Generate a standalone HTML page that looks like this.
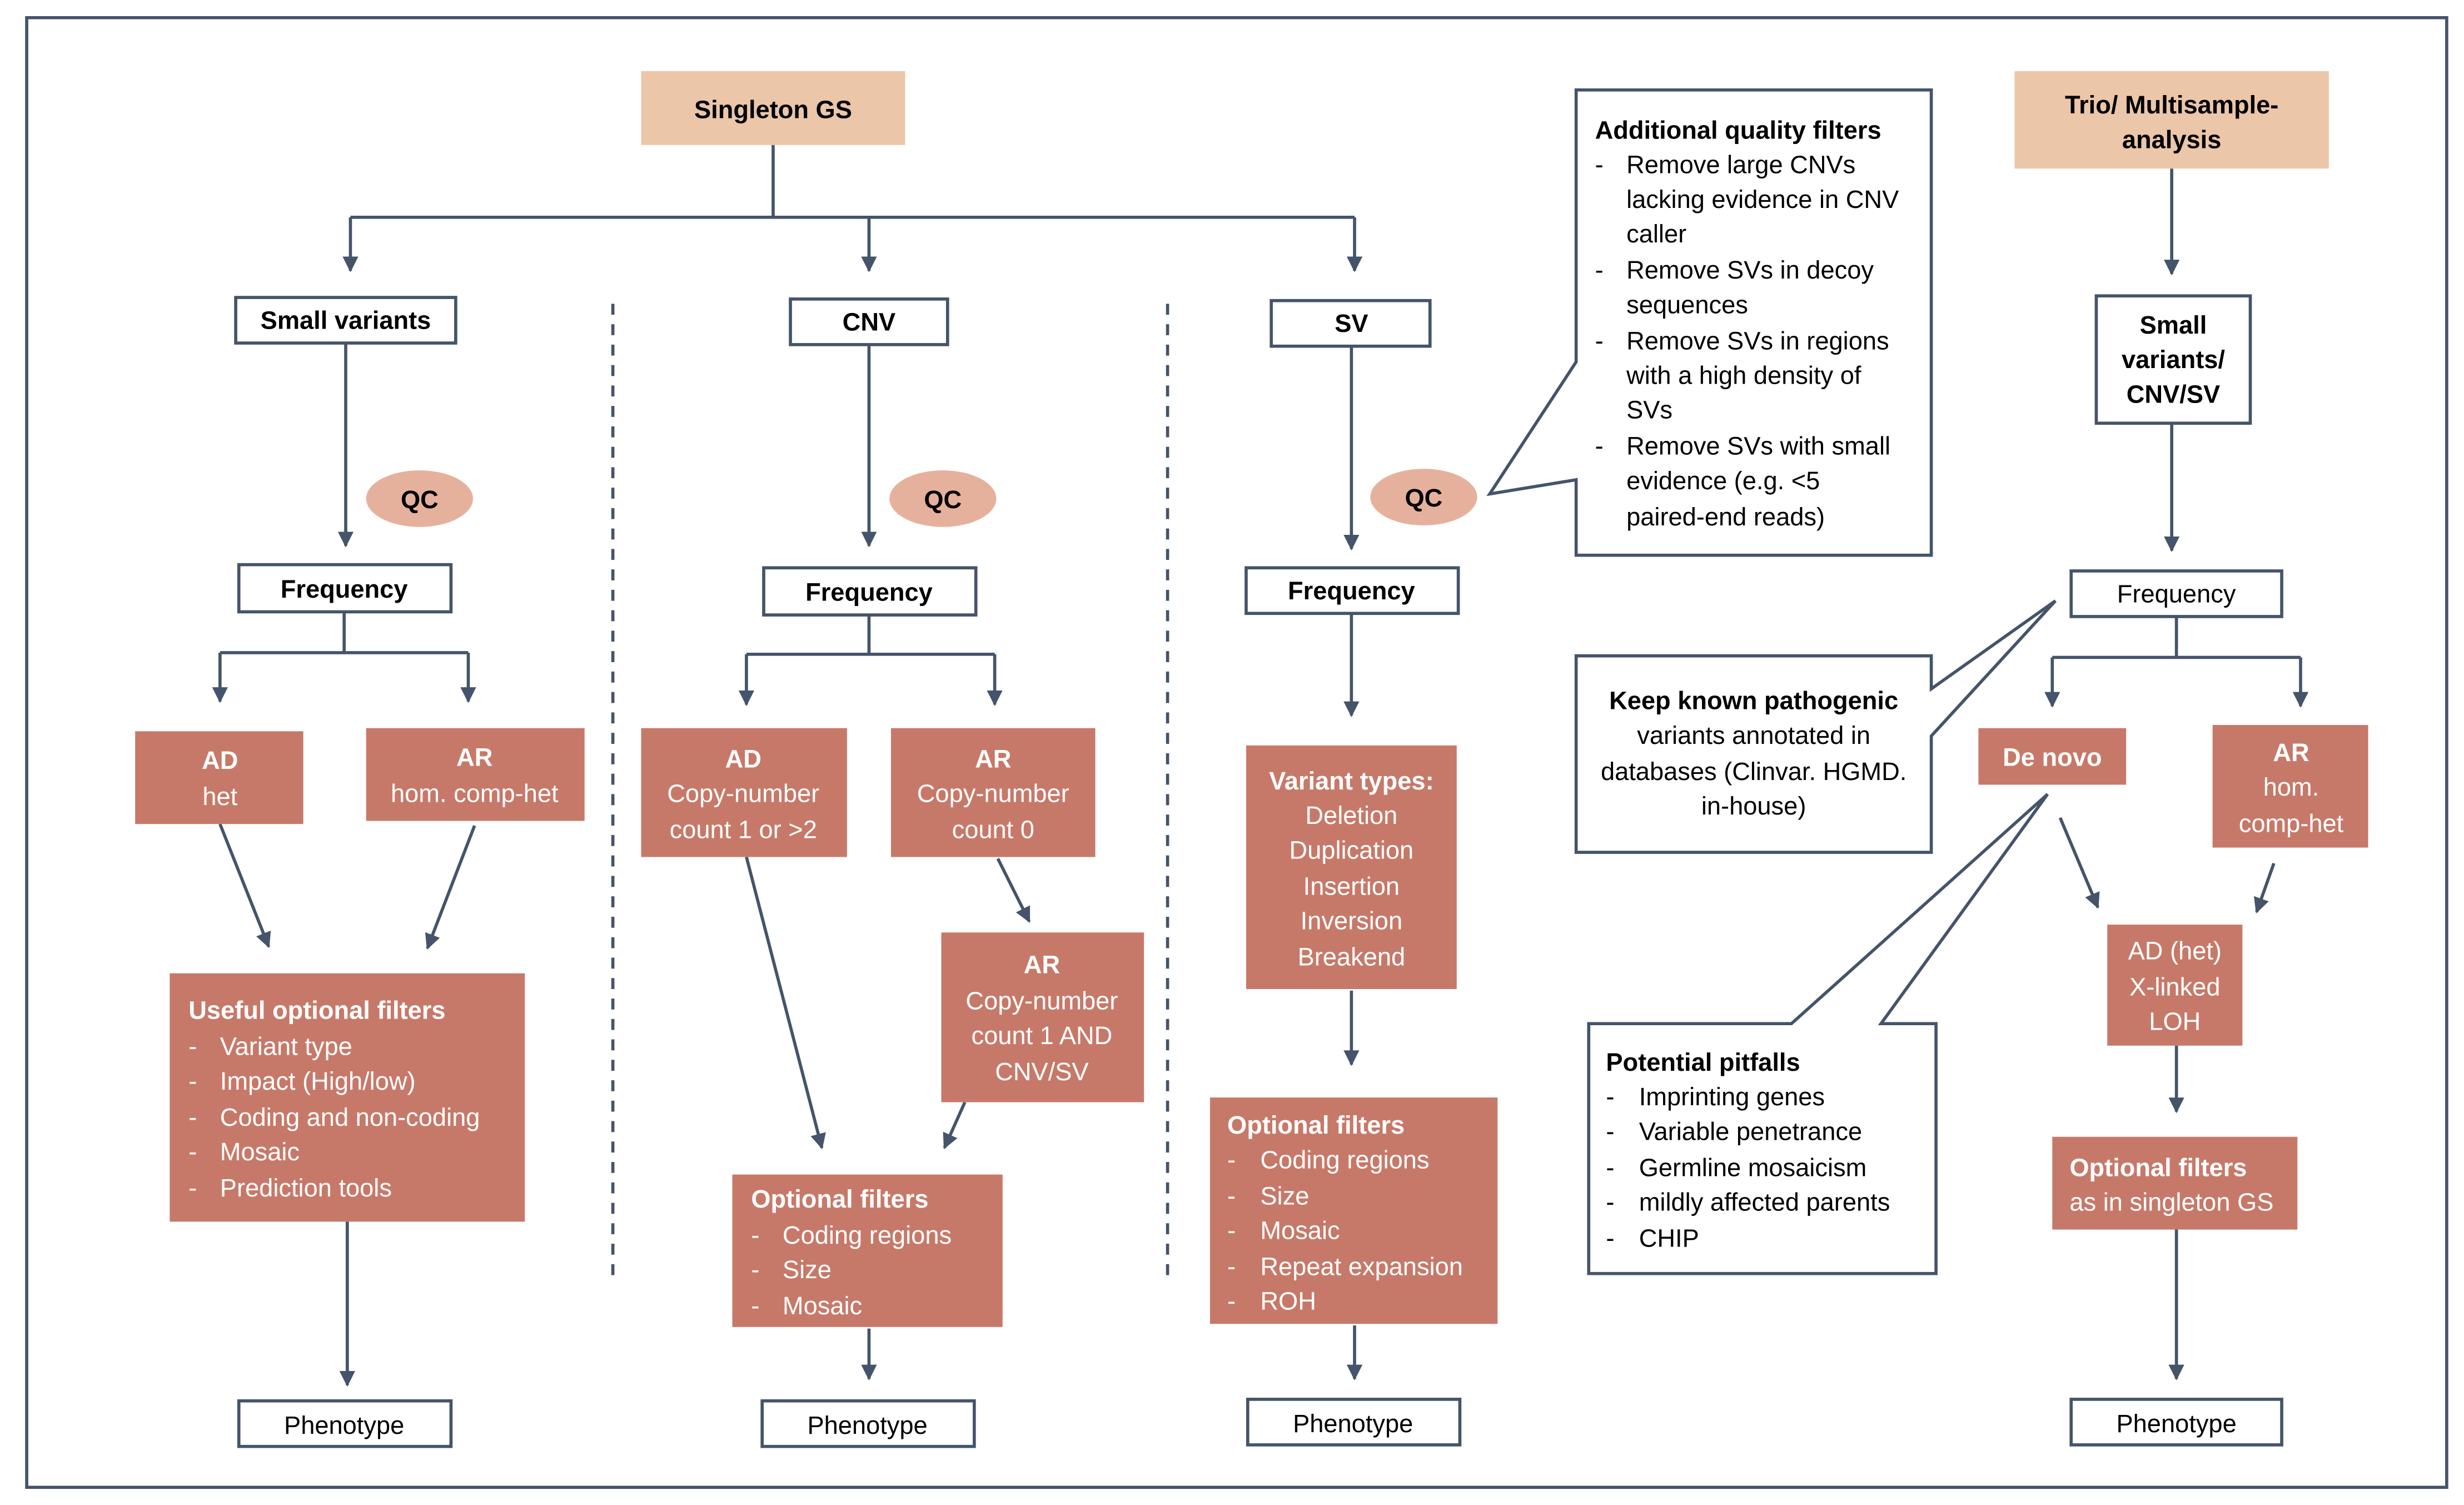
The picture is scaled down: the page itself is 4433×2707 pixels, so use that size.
<!DOCTYPE html>
<html><head><meta charset="utf-8"><style>
html,body{margin:0;padding:0;background:#fff}
svg{display:block}
text{font-family:"Liberation Sans",sans-serif;font-size:16px;fill:#000}
.b{font-weight:bold}
.w{fill:#fff}
.c{text-anchor:middle}
</style></head><body>
<svg width="4433" height="2707" viewBox="0 0 1568 957" xmlns="http://www.w3.org/2000/svg">
<defs><marker id="a" viewBox="0 0 10 10" refX="9" refY="5" markerWidth="5" markerHeight="5" orient="auto"><path d="M0,0 L10,5 L0,10 z" fill="#44546A"/></marker></defs>
<rect x="17" y="11" width="1540" height="935" fill="#fff" stroke="#44546A" stroke-width="2"/>
<g stroke="#44546A" stroke-width="2" fill="none">
<path d="M492,92 V138 M223,138 H862"/>
<path d="M223,138 V172" marker-end="url(#a)"/><path d="M553,138 V172" marker-end="url(#a)"/><path d="M862,138 V172" marker-end="url(#a)"/>
<path d="M390,193 V812 M743,193 V812" stroke-dasharray="7,6"/>
<path d="M220,218 V347" marker-end="url(#a)"/><path d="M553,219 V347" marker-end="url(#a)"/><path d="M860,220 V349" marker-end="url(#a)"/>
<path d="M219,389 V415 M140,415 H298"/><path d="M140,415 V446" marker-end="url(#a)"/><path d="M298,415 V446" marker-end="url(#a)"/>
<path d="M553,391 V416 M475,416 H633"/><path d="M475,416 V448" marker-end="url(#a)"/><path d="M633,416 V448" marker-end="url(#a)"/>
<path d="M860,390 V455" marker-end="url(#a)"/>
<path d="M140,524 L171,602" marker-end="url(#a)"/><path d="M302,525 L272,603" marker-end="url(#a)"/>
<path d="M221,777 V881" marker-end="url(#a)"/>
<path d="M635,546 L655,586" marker-end="url(#a)"/><path d="M475,545 L523,730" marker-end="url(#a)"/><path d="M614,701 L601,730" marker-end="url(#a)"/>
<path d="M553,845 V877" marker-end="url(#a)"/>
<path d="M860,630 V677" marker-end="url(#a)"/><path d="M862,843 V877" marker-end="url(#a)"/>
<path d="M1382,107 V174" marker-end="url(#a)"/><path d="M1382,269 V350" marker-end="url(#a)"/>
<path d="M1385,392 V418 M1306,418 H1464"/><path d="M1306,418 V449" marker-end="url(#a)"/><path d="M1464,418 V449" marker-end="url(#a)"/>
<path d="M1311,520 L1335,577" marker-end="url(#a)"/><path d="M1447,549 L1436,580" marker-end="url(#a)"/>
<path d="M1385,665 V707" marker-end="url(#a)"/><path d="M1385,782 V877" marker-end="url(#a)"/>
</g>
<rect x="408" y="45" width="168" height="47" fill="#EBC6A9"/>
<text x="492" y="75" class="b c">Singleton GS</text>
<rect x="1282" y="45" width="200" height="62" fill="#EBC6A9"/>
<text x="1382" y="72" class="b c">Trio/ Multisample-</text><text x="1382" y="94" class="b c">analysis</text>
<g fill="#fff" stroke="#44546A" stroke-width="2">
<rect x="150" y="189" width="140" height="29"/><rect x="503" y="190" width="100" height="29"/><rect x="809" y="191" width="101" height="29"/>
<rect x="152" y="359" width="135" height="30"/><rect x="486" y="361" width="135" height="30"/><rect x="793" y="361" width="135" height="29"/>
<rect x="152" y="891" width="135" height="29"/><rect x="485" y="891" width="135" height="29"/><rect x="794" y="890" width="135" height="29"/>
<rect x="1334" y="188" width="98" height="81"/><rect x="1318" y="363" width="134" height="29"/><rect x="1318" y="890" width="134" height="29"/>
<path d="M1003,57 H1229 V353 H1003 V305 L948,314 L1003,230 Z"/>
<path d="M1003,417 H1229 V438 L1308,382 L1229,468 V542 H1003 Z"/>
<path d="M1011,651 H1140 L1303,505 L1197,651 H1232 V810 H1011 Z"/>
</g>
<text x="220" y="209" class="b c">Small variants</text><text x="553" y="210" class="b c">CNV</text><text x="860" y="211" class="b c">SV</text>
<text x="219" y="380" class="b c">Frequency</text><text x="553" y="382" class="b c">Frequency</text><text x="860" y="381" class="b c">Frequency</text>
<text x="219" y="912" class="c">Phenotype</text><text x="552" y="912" class="c">Phenotype</text><text x="861" y="911" class="c">Phenotype</text>
<text x="1383" y="212" class="b c">Small</text><text x="1383" y="234" class="b c">variants/</text><text x="1383" y="256" class="b c">CNV/SV</text>
<text x="1385" y="383" class="c">Frequency</text><text x="1385" y="911" class="c">Phenotype</text>
<g fill="#E6B19C"><ellipse cx="267" cy="317" rx="34" ry="18"/><ellipse cx="600" cy="317" rx="34" ry="18"/><ellipse cx="906" cy="316" rx="34" ry="18"/></g>
<text x="267" y="323" class="b c">QC</text><text x="600" y="323" class="b c">QC</text><text x="906" y="322" class="b c">QC</text>
<g fill="#C77969">
<rect x="86" y="465" width="107" height="59"/><rect x="233" y="463" width="139" height="59"/><rect x="108" y="619" width="226" height="158"/>
<rect x="408" y="463" width="131" height="82"/><rect x="567" y="463" width="130" height="82"/><rect x="599" y="593" width="129" height="108"/><rect x="466" y="747" width="172" height="97"/>
<rect x="793" y="474" width="134" height="155"/><rect x="770" y="698" width="183" height="144"/>
<rect x="1259" y="463" width="94" height="36"/><rect x="1408" y="461" width="99" height="78"/><rect x="1341" y="588" width="86" height="77"/><rect x="1306" y="723" width="156" height="59"/>
</g>
<g class="w">
<text x="140" y="489" class="b c w">AD</text><text x="140" y="512" class="c w">het</text>
<text x="302" y="487" class="b c w">AR</text><text x="302" y="510" class="c w">hom. comp-het</text>
<text x="120" y="648" class="b w">Useful optional filters</text>
<text x="120" y="671" class="w">-</text><text x="140" y="671" class="w">Variant type</text>
<text x="120" y="693" class="w">-</text><text x="140" y="693" class="w">Impact (High/low)</text>
<text x="120" y="716" class="w">-</text><text x="140" y="716" class="w">Coding and non-coding</text>
<text x="120" y="738" class="w">-</text><text x="140" y="738" class="w">Mosaic</text>
<text x="120" y="761" class="w">-</text><text x="140" y="761" class="w">Prediction tools</text>
<text x="473" y="488" class="b c w">AD</text><text x="473" y="510" class="c w">Copy-number</text><text x="473" y="533" class="c w">count 1 or &gt;2</text>
<text x="632" y="488" class="b c w">AR</text><text x="632" y="510" class="c w">Copy-number</text><text x="632" y="533" class="c w">count 0</text>
<text x="663" y="619" class="b c w">AR</text><text x="663" y="642" class="c w">Copy-number</text><text x="663" y="664" class="c w">count 1 AND</text><text x="663" y="687" class="c w">CNV/SV</text>
<text x="478" y="768" class="b w">Optional filters</text>
<text x="478" y="791" class="w">-</text><text x="498" y="791" class="w">Coding regions</text>
<text x="478" y="813" class="w">-</text><text x="498" y="813" class="w">Size</text>
<text x="478" y="836" class="w">-</text><text x="498" y="836" class="w">Mosaic</text>
<text x="860" y="502" class="b c w">Variant types:</text><text x="860" y="524" class="c w">Deletion</text><text x="860" y="546" class="c w">Duplication</text><text x="860" y="569" class="c w">Insertion</text><text x="860" y="591" class="c w">Inversion</text><text x="860" y="614" class="c w">Breakend</text>
<text x="781" y="721" class="b w">Optional filters</text>
<text x="781" y="743" class="w">-</text><text x="802" y="743" class="w">Coding regions</text>
<text x="781" y="766" class="w">-</text><text x="802" y="766" class="w">Size</text>
<text x="781" y="788" class="w">-</text><text x="802" y="788" class="w">Mosaic</text>
<text x="781" y="811" class="w">-</text><text x="802" y="811" class="w">Repeat expansion</text>
<text x="781" y="833" class="w">-</text><text x="802" y="833" class="w">ROH</text>
<text x="1306" y="487" class="b c w">De novo</text>
<text x="1458" y="484" class="b c w">AR</text><text x="1458" y="506" class="c w">hom.</text><text x="1458" y="529" class="c w">comp-het</text>
<text x="1384" y="610" class="c w">AD (het)</text><text x="1384" y="633" class="c w">X-linked</text><text x="1384" y="655" class="c w">LOH</text>
<text x="1317" y="748" class="b w">Optional filters</text><text x="1317" y="770" class="w">as in singleton GS</text>
</g>
<text x="1015" y="88" class="b">Additional quality filters</text>
<text x="1015" y="110">-</text><text x="1035" y="110">Remove large CNVs</text>
<text x="1035" y="132">lacking evidence in CNV</text><text x="1035" y="154">caller</text>
<text x="1015" y="177">-</text><text x="1035" y="177">Remove SVs in decoy</text><text x="1035" y="199">sequences</text>
<text x="1015" y="222">-</text><text x="1035" y="222">Remove SVs in regions</text><text x="1035" y="244">with a high density of</text><text x="1035" y="266">SVs</text>
<text x="1015" y="289">-</text><text x="1035" y="289">Remove SVs with small</text><text x="1035" y="311">evidence (e.g. &lt;5</text><text x="1035" y="334">paired-end reads)</text>
<text x="1116" y="451" class="b c">Keep known pathogenic</text><text x="1116" y="473" class="c">variants annotated in</text><text x="1116" y="496" class="c">databases (Clinvar. HGMD.</text><text x="1116" y="518" class="c">in-house)</text>
<text x="1022" y="681" class="b">Potential pitfalls</text>
<text x="1022" y="703">-</text><text x="1043" y="703">Imprinting genes</text>
<text x="1022" y="725">-</text><text x="1043" y="725">Variable penetrance</text>
<text x="1022" y="748">-</text><text x="1043" y="748">Germline mosaicism</text>
<text x="1022" y="770">-</text><text x="1043" y="770">mildly affected parents</text>
<text x="1022" y="793">-</text><text x="1043" y="793">CHIP</text>
</svg>
</body></html>
